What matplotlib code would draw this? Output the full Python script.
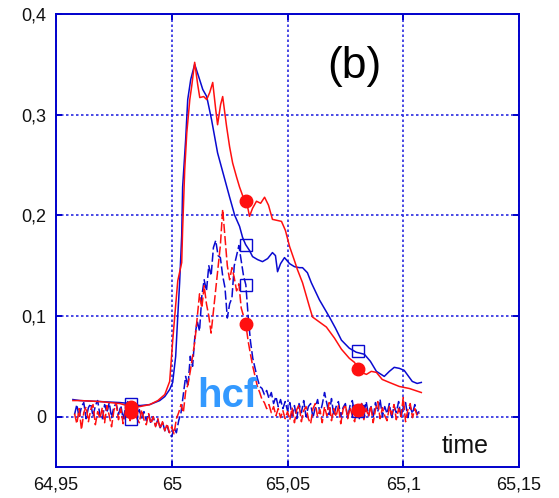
import numpy as np
import matplotlib
matplotlib.use("Agg")
import matplotlib.pyplot as plt

# ---------------- data ----------------
# solid curves (explicit time, value pairs)
blue_solid_x = [64.9573, 64.9603, 64.9690, 64.9776, 64.9823, 64.9862, 64.9905, 64.9948, 64.9970, 64.9991,
                65.0004, 65.0017, 65.0026, 65.0034, 65.0043, 65.0047, 65.0060, 65.0069, 65.0082, 65.0099,
                65.0116, 65.0134, 65.0151, 65.0172, 65.0198, 65.0224, 65.0250, 65.0272, 65.0293, 65.0306,
                65.0319, 65.0336, 65.0349, 65.0371, 65.0392, 65.0414, 65.0435, 65.0448, 65.0457, 65.0470,
                65.0487, 65.0509, 65.0530, 65.0552, 65.0565, 65.0586, 65.0603, 65.0638, 65.0681, 65.0707,
                65.0733, 65.0767, 65.0797, 65.0832, 65.0858, 65.0884, 65.0918, 65.0940, 65.0961, 65.0983,
                65.1004, 65.1039, 65.1060, 65.1078]
blue_solid_y = [0.017, 0.016, 0.015, 0.014, 0.013, 0.011, 0.012, 0.016, 0.020, 0.027,
                0.034, 0.060, 0.100, 0.133, 0.180, 0.228, 0.275, 0.315, 0.335, 0.350,
                0.338, 0.325, 0.318, 0.295, 0.262, 0.240, 0.218, 0.200, 0.189, 0.178,
                0.171, 0.165, 0.159, 0.156, 0.154, 0.157, 0.163, 0.160, 0.144, 0.152,
                0.158, 0.152, 0.149, 0.148, 0.148, 0.143, 0.133, 0.116, 0.099, 0.088,
                0.076, 0.068, 0.064, 0.062, 0.055, 0.045, 0.040, 0.045, 0.049, 0.048,
                0.046, 0.035, 0.033, 0.034]

red_solid_x = [64.9573, 64.9603, 64.9690, 64.9776, 64.9823, 64.9862, 64.9905, 64.9940, 64.9970, 64.9991,
               65.0004, 65.0013, 65.0026, 65.0043, 65.0047, 65.0056, 65.0065, 65.0078, 65.0086, 65.0099,
               65.0112, 65.0121, 65.0138, 65.0151, 65.0164, 65.0177, 65.0190, 65.0198, 65.0211, 65.0220,
               65.0237, 65.0250, 65.0263, 65.0280, 65.0293, 65.0315, 65.0328, 65.0336, 65.0349, 65.0366,
               65.0384, 65.0401, 65.0418, 65.0435, 65.0474, 65.0491, 65.0509, 65.0530, 65.0543, 65.0565,
               65.0595, 65.0608, 65.0638, 65.0668, 65.0703, 65.0733, 65.0767, 65.0789, 65.0806, 65.0819,
               65.0841, 65.0862, 65.0884, 65.0909, 65.0940, 65.0983, 65.1026, 65.1078]
red_solid_y = [0.016, 0.016, 0.015, 0.013, 0.010, 0.010, 0.012, 0.016, 0.022, 0.035,
               0.075, 0.100, 0.135, 0.153, 0.186, 0.245, 0.282, 0.315, 0.328, 0.352,
               0.330, 0.317, 0.318, 0.315, 0.322, 0.332, 0.305, 0.290, 0.310, 0.318,
               0.288, 0.268, 0.252, 0.238, 0.228, 0.214, 0.208, 0.199, 0.207, 0.214,
               0.212, 0.218, 0.210, 0.196, 0.194, 0.185, 0.169, 0.155, 0.146, 0.133,
               0.109, 0.099, 0.094, 0.089, 0.078, 0.067, 0.058, 0.054, 0.048, 0.044,
               0.042, 0.045, 0.044, 0.037, 0.034, 0.030, 0.028, 0.024]

# dashed (noisy) curves, sampled every 0.001 from 64.958
noisy_t0 = 64.958
noisy_dt = 0.001
blue_dashed_y = [0.002, 0.012, -0.001, 0.010, 0.014, -0.002, 0.009, 0.013, 0.000, 0.011,
                 0.016, 0.001, -0.003, 0.012, 0.004, 0.014, -0.001, 0.010, 0.013, 0.002,
                 0.011, -0.002, 0.008, 0.015, 0.000, 0.010, 0.004, -0.001,
                 0.007, -0.002, 0.005, -0.004, 0.003, -0.007, 0.000, -0.009, -0.003, -0.011,
                 -0.005, -0.014, -0.009, -0.017,
                 -0.020, -0.011, -0.016, -0.004, 0.004, 0.022, 0.040, 0.030, 0.060, 0.050,
                 0.080, 0.095, 0.085, 0.120, 0.136, 0.125, 0.150, 0.140, 0.168, 0.175,
                 0.160, 0.158, 0.140, 0.128, 0.098, 0.112, 0.118, 0.150, 0.160, 0.170,
                 0.155, 0.140, 0.131, 0.100, 0.075, 0.058, 0.048, 0.038, 0.030, 0.028,
                 0.022, 0.026, 0.018, 0.024, 0.013, 0.020, 0.010, 0.017, 0.008, 0.015,
                 0.006,
                 0.014, 0.001, 0.011, -0.002, 0.013, 0.004, 0.016, 0.000, 0.010, 0.013,
                 -0.001, 0.009, 0.017, 0.003, 0.012, 0.024, 0.013, 0.002, 0.018, 0.001,
                 0.010, 0.015, 0.000, 0.009, 0.013, -0.001, 0.011, 0.016, 0.002, 0.010,
                 -0.002, 0.013, 0.004, 0.015, 0.001, 0.011, -0.001, 0.014, 0.005, 0.017,
                 0.000, 0.010, 0.003, 0.013, -0.002, 0.011, 0.004, 0.015, 0.000, 0.009,
                 0.014, -0.001, 0.010, 0.003, 0.012, 0.002, 0.006]
red_dashed_y = [0.003, -0.007, 0.008, -0.013, 0.004, 0.010, -0.005, 0.007, 0.012, -0.008,
                0.005, -0.002, 0.009, -0.006, 0.011, 0.001, -0.010, 0.006, 0.013, -0.003,
                0.008, -0.007, 0.004, 0.010, -0.004, 0.006, 0.009, -0.002, -0.006, 0.007,
                -0.003, -0.008, 0.003, -0.007, 0.000, -0.010, -0.002, -0.012, -0.005, -0.014,
                -0.007, -0.016,
                -0.010, -0.017, -0.002, 0.004, 0.012, 0.004, 0.025, 0.032, 0.045, 0.060,
                0.075, 0.098, 0.122, 0.108, 0.130, 0.112, 0.100, 0.083, 0.105, 0.128,
                0.150, 0.170, 0.206, 0.178, 0.150, 0.136, 0.148, 0.138, 0.125, 0.132,
                0.108, 0.100, 0.092, 0.075, 0.062, 0.050, 0.040, 0.030, 0.024, 0.017,
                0.014, 0.008, 0.012, 0.004, 0.010, 0.001, 0.008, -0.001, 0.006, -0.002,
                0.005,
                -0.003, 0.009, -0.006, 0.007, 0.012, -0.005, 0.006, 0.010, -0.002, -0.007,
                0.008, 0.013, 0.000, 0.007, -0.006, 0.010, 0.001, 0.014, -0.004, 0.008,
                0.000, 0.011, -0.007, 0.007, 0.012, -0.002, 0.009, 0.001, -0.005, 0.010,
                0.002, 0.013, -0.003, 0.008, 0.000, 0.011, -0.006, 0.007, 0.015, -0.002,
                0.009, 0.001, -0.004, 0.010, 0.002, 0.012, -0.003, 0.008, 0.000, 0.019,
                -0.005, 0.007, 0.013, -0.001, 0.008, 0.001, 0.004]

# markers
marker_x = [64.9823, 65.0319, 65.0806]
blue_solid_mk = [0.013, 0.171, 0.065]
blue_dashed_mk = [-0.002, 0.131, 0.006]
red_solid_mk = [0.010, 0.214, 0.047]
red_dashed_mk = [0.005, 0.092, 0.007]

x_ticks = [64.95, 65.0, 65.05, 65.1, 65.15]
x_tick_labels = ["64,95", "65", "65,05", "65,1", "65,15"]
y_ticks = [0.0, 0.1, 0.2, 0.3, 0.4]
y_tick_labels = ["0", "0,1", "0,2", "0,3", "0,4"]

# ---------------- plot ----------------
plt.rcParams['font.family'] = ['Liberation Sans', 'DejaVu Sans']

BLUE = '#0a0ad0'
RED = '#ff1010'
FRAME = '#0000cc'

fig = plt.figure(figsize=(5.59, 4.98), dpi=100)
ax = fig.add_axes([56 / 559, 31 / 498, 463 / 559, 453 / 498])

bdx = noisy_t0 + noisy_dt * np.arange(len(blue_dashed_y))
rdx = noisy_t0 + noisy_dt * np.arange(len(red_dashed_y))

lw = 1.1
ax.plot(blue_solid_x, blue_solid_y, color=BLUE, lw=lw, zorder=3)
ax.plot(bdx, blue_dashed_y, color=BLUE, lw=lw, linestyle=(0, (6, 2)), zorder=3)
ax.plot(red_solid_x, red_solid_y, color=RED, lw=lw, zorder=4)
ax.plot(rdx, red_dashed_y, color=RED, lw=lw, linestyle=(0, (6, 2)), zorder=4)

ax.plot(marker_x, blue_solid_mk, linestyle='none', marker='s', ms=8, mfc='none',
        mec=BLUE, mew=1.0, zorder=5)
ax.plot(marker_x, blue_dashed_mk, linestyle='none', marker='s', ms=8, mfc='none',
        mec=BLUE, mew=1.0, zorder=5)
ax.plot(marker_x, red_solid_mk, linestyle='none', marker='o', ms=9, color=RED, zorder=6)
ax.plot(marker_x, red_dashed_mk, linestyle='none', marker='o', ms=9, color=RED, zorder=6)

ax.set_xlim(64.95, 65.15)
ax.set_ylim(-0.05, 0.4)
ax.set_xticks(x_ticks)
ax.set_xticklabels(x_tick_labels)
ax.set_yticks(y_ticks)
ax.set_yticklabels(y_tick_labels)

ax.grid(True, color='#2a2ae0', linestyle=(0, (1.5, 1.5)), linewidth=1.2, zorder=1)
ax.set_axisbelow(True)
for s in ax.spines.values():
    s.set_color(FRAME)
    s.set_linewidth(1.4)
ax.tick_params(axis='both', direction='in', length=4, width=1.4, color=FRAME,
               labelsize=13, labelcolor='#111111', top=True, right=True)
ax.tick_params(axis='x', pad=7)
ax.tick_params(axis='y', pad=7)

ax.text(65.079, 0.3476, "(b)", fontsize=32, ha='center', va='center', color='#000000')
ax.text(65.0108, 0.0099, "hcf", fontsize=29, fontweight='bold', color='#3399ff',
        ha='left', va='baseline', zorder=7)
ax.text(65.1164, -0.0357, "time", fontsize=18, ha='left', va='baseline', color='#111111')

fig.savefig("out.png", dpi=100)
